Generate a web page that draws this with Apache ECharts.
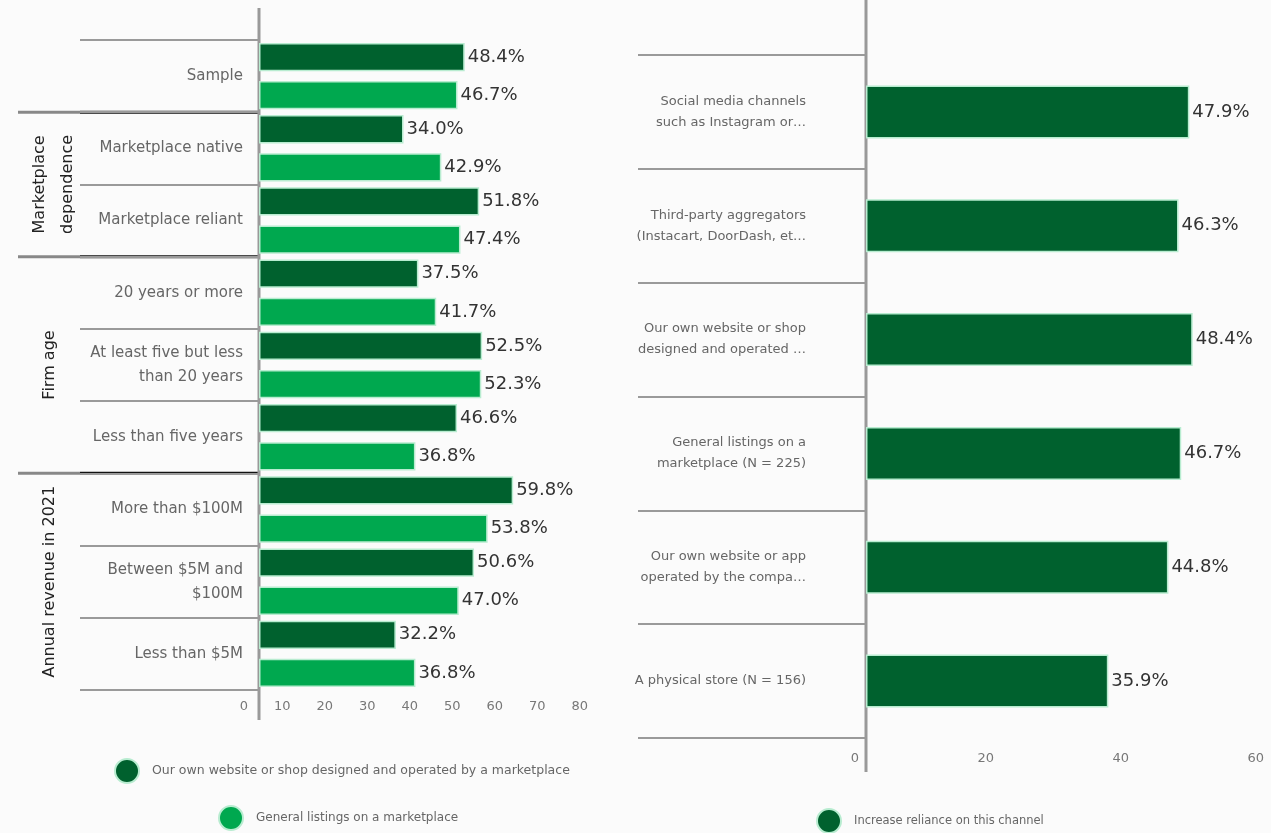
<!DOCTYPE html>
<html>
<head>
<meta charset="utf-8">
<title>Channel reliance by seller segment</title>
<script src="https://cdn.jsdelivr.net/npm/echarts@6/dist/echarts.min.js"></script>
<style>
  html, body { margin: 0; padding: 0; background: #fbfbfb; }
  #chart { width: 1271px; height: 833px; }
</style>
</head>
<body>
<div id="chart"></div>
<script>
// ---- Left panel: share by seller segment ----
const segmentLabels = [
  'Sample',
  'Marketplace native',
  'Marketplace reliant',
  '20 years or more',
  'At least five but less\nthan 20 years',
  'Less than five years',
  'More than $100M',
  'Between $5M and\n$100M',
  'Less than $5M'
];
const ownSiteShare = [48.4, 34.0, 51.8, 37.5, 52.5, 46.6, 59.8, 50.6, 32.2];
const generalListingShare = [46.7, 42.9, 47.4, 41.7, 52.3, 36.8, 53.8, 47.0, 36.8];

// Segment groups: title and first/last category index
const groupTitles = ['Marketplace\ndependence', 'Firm age', 'Annual revenue in 2021'];
const groupFirst = [1, 3, 6];
const groupLast = [2, 5, 8];

// ---- Right panel: channels with increased reliance ----
const channelLabels = [
  'Social media channels\nsuch as Instagram or…',
  'Third-party aggregators\n(Instacart, DoorDash, et…',
  'Our own website or shop\ndesigned and operated …',
  'General listings on a\nmarketplace (N = 225)',
  'Our own website or app\noperated by the compa…',
  'A physical store (N = 156)'
];
const increaseShare = [47.9, 46.3, 48.4, 46.7, 44.8, 35.9];

const seriesNames = [
  'Our own website or shop designed and operated by a marketplace',
  'General listings on a marketplace',
  'Increase reliance on this channel'
];

const DARK = '#00612e';
const LIGHT = '#00a84f';
const EDGE = '#b8ecd0';
const FONT = '"DejaVu Sans", "Liberation Sans", Arial, sans-serif';

const chart = echarts.init(document.getElementById('chart'), null, { renderer: 'canvas' });

const pctLabel = {
  show: true,
  position: 'right',
  distance: 3,
  color: '#333',
  fontSize: 18,
  fontFamily: FONT,
  formatter: p => p.value.toFixed(1) + '%'
};

function valueAxis(gridIndex, max, interval, margin, padRight) {
  return {
    type: 'value', gridIndex, min: 0, max, interval,
    axisLine: { show: false },
    axisTick: { show: false },
    splitLine: { show: false },
    axisLabel: {
      color: '#777', fontSize: 13, fontFamily: FONT,
      align: 'right', padding: [0, padRight, 0, 0], margin
    }
  };
}

function legendFor(name, left, top, fontSize) {
  return {
    data: [name], left, top, padding: 0,
    icon: 'circle', itemWidth: 24, itemHeight: 24, selectedMode: false,
    textStyle: { color: '#666', fontSize, fontFamily: FONT, padding: [0, 0, 0, 8] }
  };
}

chart.setOption({
  backgroundColor: '#fbfbfb',
  animation: false,
  grid: [
    { left: 259, top: 40, width: 340, height: 650, containLabel: false },
    { left: 866, top: 55, width: 411, height: 683, containLabel: false }
  ],
  xAxis: [
    valueAxis(0, 80, 10, 10, 11),
    valueAxis(1, 60, 20, 14, 7)
  ],
  yAxis: [
    {
      type: 'category', gridIndex: 0, data: segmentLabels, inverse: true,
      axisLine: { show: false },
      axisTick: { show: true, length: 179, lineStyle: { color: '#9a9a9a', width: 2 } },
      axisLabel: { color: '#666', fontSize: 15, fontFamily: FONT, margin: 16, lineHeight: 24 }
    },
    {
      type: 'category', gridIndex: 1, data: channelLabels, inverse: true,
      axisLine: { show: false },
      axisTick: { show: true, length: 228, lineStyle: { color: '#9a9a9a', width: 2 } },
      axisLabel: { color: '#666', fontSize: 13, fontFamily: FONT, margin: 60, lineHeight: 21 }
    }
  ],
  legend: [
    legendFor(seriesNames[0], 114, 758, 12.5),
    legendFor(seriesNames[1], 218, 805, 12),
    legendFor(seriesNames[2], 816, 808, 11.5)
  ],
  series: [
    {
      name: seriesNames[0], type: 'bar', xAxisIndex: 0, yAxisIndex: 0,
      data: ownSiteShare, barCategoryGap: '8%', barGap: '35%',
      itemStyle: { color: DARK, borderColor: EDGE, borderWidth: 1.5 },
      label: pctLabel
    },
    {
      name: seriesNames[1], type: 'bar', xAxisIndex: 0, yAxisIndex: 0,
      data: generalListingShare, barCategoryGap: '8%', barGap: '35%',
      itemStyle: { color: LIGHT, borderColor: EDGE, borderWidth: 1.5 },
      label: pctLabel
    },
    {
      name: seriesNames[2], type: 'bar', xAxisIndex: 1, yAxisIndex: 1,
      data: increaseShare, barWidth: 53,
      itemStyle: { color: DARK, borderColor: EDGE, borderWidth: 1.5 },
      label: pctLabel
    }
  ]
});

// Axis spines, segment-group dividers and rotated group titles
function boundary(i) {
  // pixel y between category i-1 and i on the left axis
  const a = chart.convertToPixel({ yAxisIndex: 0 }, i - 1);
  const b = chart.convertToPixel({ yAxisIndex: 0 }, i);
  return (a + b) / 2;
}
const leftX = chart.convertToPixel({ xAxisIndex: 0 }, 0);
const rightX = chart.convertToPixel({ xAxisIndex: 1 }, 0);
const graphics = [];

groupFirst.forEach((first, g) => {
  const y = boundary(first);
  graphics.push(
    { type: 'line', shape: { x1: 18, y1: y, x2: 80, y2: y }, style: { stroke: '#888', lineWidth: 3 } },
    { type: 'line', shape: { x1: 80, y1: y, x2: leftX, y2: y }, style: { stroke: '#111', lineWidth: 3 } }
  );
  const top = chart.convertToPixel({ yAxisIndex: 0 }, first);
  const bottom = chart.convertToPixel({ yAxisIndex: 0 }, groupLast[g]);
  graphics.push({
    type: 'text',
    x: groupTitles[g].indexOf('\n') >= 0 ? 54 : 50,
    y: (top + bottom) / 2,
    rotation: Math.PI / 2,
    style: {
      text: groupTitles[g], fill: '#222', fontSize: 16, fontFamily: FONT,
      align: 'center', verticalAlign: 'middle', lineHeight: 28
    }
  });
});

graphics.push(
  { type: 'line', shape: { x1: leftX, y1: 8, x2: leftX, y2: 720 }, style: { stroke: '#999', lineWidth: 3 } },
  { type: 'line', shape: { x1: rightX, y1: 0, x2: rightX, y2: 772 }, style: { stroke: '#999', lineWidth: 3 } }
);

chart.setOption({ graphic: graphics });
</script>
</body>
</html>
